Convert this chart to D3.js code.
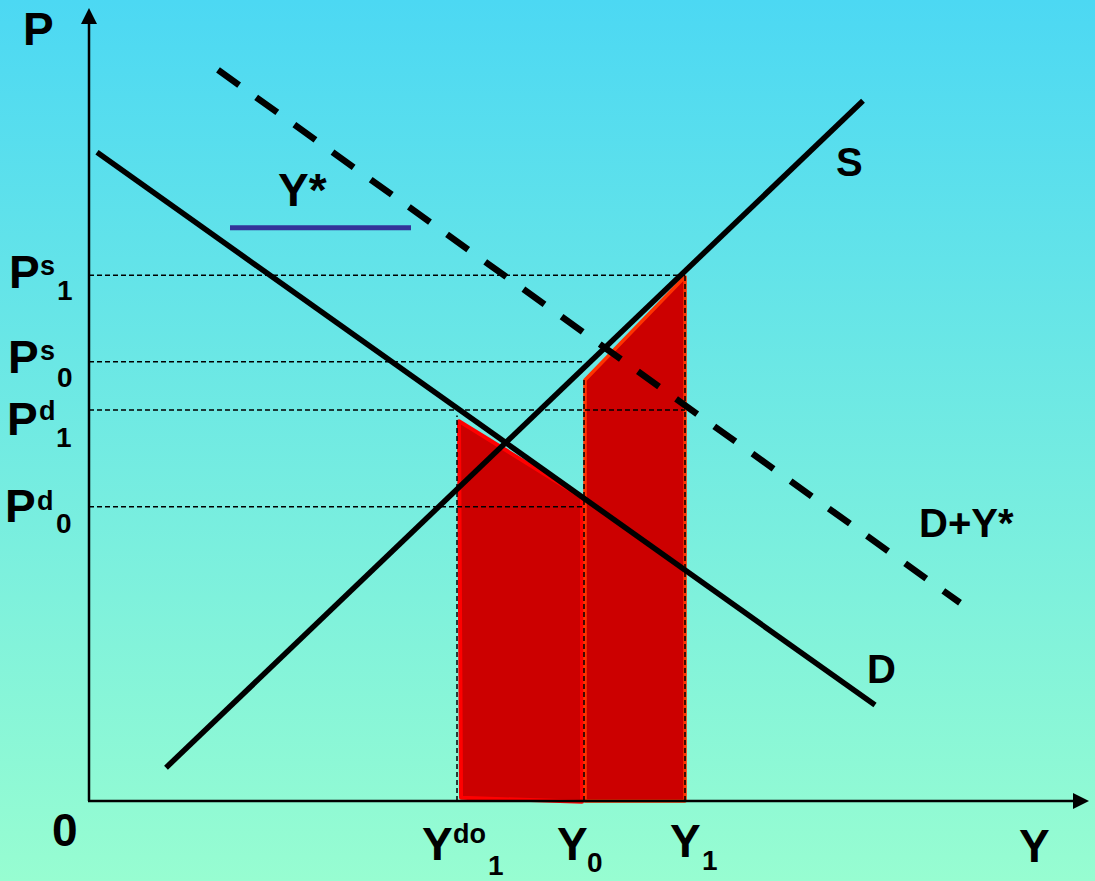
<!DOCTYPE html>
<html>
<head>
<meta charset="utf-8">
<script src="https://cdn.jsdelivr.net/npm/d3@7"></script>
<style>
  html, body { margin: 0; padding: 0; }
  svg { display: block; }
  text { font-family: "Liberation Sans", Arial, sans-serif; font-weight: bold; fill: #000; }
</style>
</head>
<body>
<script>
// model units: quantity Y on x (0..100), price P on y (0..100)
const demand = [[0.8, 81.8], [78.6, 12.1]];
const supply = [[7.7, 4.2], [77.4, 88.3]];
const demandPlus = [[12.9, 92.2], [87.1, 25.0]];
const yStarBar = [[14.1, 72.3], [32.2, 72.3]];

// price guides: level and how far right they run
const priceLevels = [
  {name: "Ps1", p: 66.3, q: 59.6},
  {name: "Ps0", p: 55.4, q: 49.5},
  {name: "Pd1", p: 49.3, q: 59.6},
  {name: "Pd0", p: 37.1, q: 49.5}
];
// quantity guides: level and how high they run
const quantityLevels = [
  {name: "Ydo1", q: 36.8, p: 48.6},
  {name: "Y0", q: 49.5, p: 53.4},
  {name: "Y1", q: 59.6, p: 66.3}
];

const areaLeft = [[37.0, 47.9], [49.3, 38.3], [49.3, -0.1], [37.2, 0.4]];
const areaRight = [[49.6, 53.1], [59.6, 66.1], [59.6, 0], [49.6, 0]];

const width = 1095, height = 881;
const origin = {x: 89, y: 801};

const x = d3.scaleLinear().domain([0, 100]).range([origin.x, origin.x + 1000]);
const y = d3.scaleLinear().domain([0, 100]).range([origin.y, origin.y - 793]);

const svg = d3.select("body").append("svg")
  .attr("width", width)
  .attr("height", height);

const grad = svg.append("defs").append("linearGradient")
  .attr("id", "bg")
  .attr("x1", 0).attr("y1", 0).attr("x2", 0).attr("y2", 1);
grad.append("stop").attr("offset", "0%").attr("stop-color", "#4cd8f3");
grad.append("stop").attr("offset", "100%").attr("stop-color", "#97fdd1");

svg.append("rect")
  .attr("width", width)
  .attr("height", height)
  .attr("fill", "url(#bg)");

const line = d3.line().x(d => x(d[0])).y(d => y(d[1]));

// shaded areas
svg.append("path")
  .attr("d", line(areaLeft) + "Z")
  .attr("fill", "#cc0000")
  .attr("stroke", "#ff0000")
  .attr("stroke-width", 4)
  .attr("stroke-linejoin", "round");

svg.append("path")
  .attr("d", line(areaRight) + "Z")
  .attr("fill", "#cc0000")
  .attr("stroke", "#ff3300")
  .attr("stroke-width", 3.5)
  .attr("stroke-linejoin", "round");

// guides
svg.selectAll("line.pguide")
  .data(priceLevels)
  .enter().append("line")
  .attr("class", "pguide")
  .attr("x1", x(0)).attr("x2", d => x(d.q))
  .attr("y1", d => y(d.p)).attr("y2", d => y(d.p))
  .attr("stroke", "#000")
  .attr("stroke-width", 1.5)
  .attr("stroke-dasharray", "5,3");

svg.selectAll("line.qguide")
  .data(quantityLevels)
  .enter().append("line")
  .attr("class", "qguide")
  .attr("x1", d => x(d.q)).attr("x2", d => x(d.q))
  .attr("y1", y(0)).attr("y2", d => y(d.p))
  .attr("stroke", "#000")
  .attr("stroke-width", 1.5)
  .attr("stroke-dasharray", "5,3");

// axes
svg.append("line")
  .attr("x1", x(0)).attr("y1", y(0))
  .attr("x2", x(0)).attr("y2", y(100) + 14)
  .attr("stroke", "#000").attr("stroke-width", 2.5);
svg.append("line")
  .attr("x1", x(0) - 1).attr("y1", y(0))
  .attr("x2", x(100) - 14).attr("y2", y(0))
  .attr("stroke", "#000").attr("stroke-width", 2.5);

svg.append("path")
  .attr("d", `M${x(0)},${y(100)} L${x(0) - 8},${y(100) + 16} L${x(0) + 8},${y(100) + 16} Z`)
  .attr("fill", "#000");
svg.append("path")
  .attr("d", `M${x(100)},${y(0)} L${x(100) - 16},${y(0) - 8} L${x(100) - 16},${y(0) + 8} Z`)
  .attr("fill", "#000");

// curves
svg.append("path")
  .attr("d", line(demandPlus))
  .attr("fill", "none")
  .attr("stroke", "#000")
  .attr("stroke-width", 6.5)
  .attr("stroke-dasharray", "26,21");

svg.append("path")
  .attr("d", line(demand))
  .attr("fill", "none")
  .attr("stroke", "#000")
  .attr("stroke-width", 5.5);

svg.append("path")
  .attr("d", line(supply))
  .attr("fill", "none")
  .attr("stroke", "#000")
  .attr("stroke-width", 5.5);

svg.append("path")
  .attr("d", line(yStarBar))
  .attr("fill", "none")
  .attr("stroke", "#333399")
  .attr("stroke-width", 5);

// labels
function label(px, py, main, size, sup, supDx, supDy, sub, subDx, subDy) {
  const t = svg.append("text")
    .attr("x", px).attr("y", py)
    .style("font-size", size + "px")
    .text(main);
  if (sup) {
    svg.append("text")
      .attr("x", px + supDx).attr("y", py + supDy)
      .style("font-size", "27px")
      .text(sup);
  }
  if (sub) {
    svg.append("text")
      .attr("x", px + subDx).attr("y", py + subDy)
      .style("font-size", "28px")
      .text(sub);
  }
  return t;
}

label(23, 45, "P", 46);
label(1019, 862, "Y", 46);
label(52, 846, "0", 46);
label(836, 176, "S", 40);
label(867, 683, "D", 40);
label(919, 537, "D+Y*", 40);
label(278, 206, "Y*", 46);

label(9, 288, "P", 46, "s", 31, -13, "1", 48, 12);
label(8, 373, "P", 46, "s", 32, -13, "0", 49, 14);
label(7, 435, "P", 46, "d", 32, -15, "1", 49, 12);
label(5, 522, "P", 46, "d", 32, -12, "0", 51, 11);

label(422, 860, "Y", 46, "do", 31, -17, "1", 66, 15);
label(557, 860, "Y", 46, null, 0, 0, "0", 30, 12);
label(670, 857, "Y", 46, null, 0, 0, "1", 32, 13);
</script>
</body>
</html>
